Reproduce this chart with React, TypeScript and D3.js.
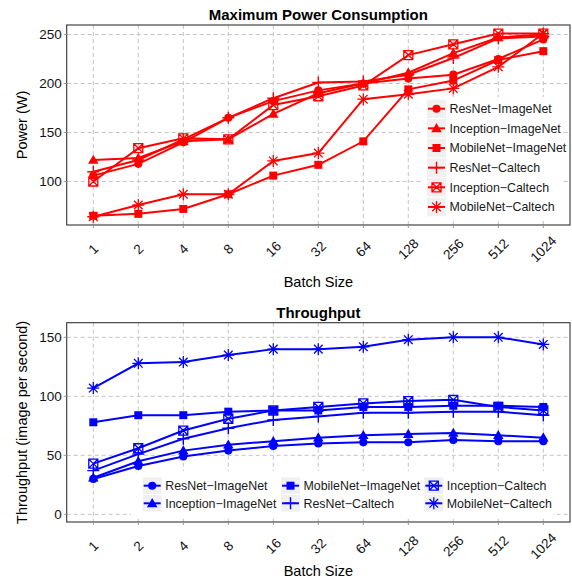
import React from "react";
import * as d3 from "d3";

// batch sizes on the x axis
const batchSizes = ["1", "2", "4", "8", "16", "32", "64", "128", "256", "512", "1024"];

const seriesNames = [
  "ResNet\u2212ImageNet",
  "Inception\u2212ImageNet",
  "MobileNet\u2212ImageNet",
  "ResNet\u2212Caltech",
  "Inception\u2212Caltech",
  "MobileNet\u2212Caltech",
];
const seriesShapes = ["circle", "triangle", "square", "plus", "boxx", "star"];

// Maximum power consumption (W)
const resnetImagenetPower = [106, 118, 140, 165, 182, 193, 200, 205, 209, 225, 245];
const inceptionImagenetPower = [122, 124, 141, 143, 169, 190, 200, 211, 231, 247, 250];
const mobilenetImagenetPower = [65, 67, 72, 87, 106, 117, 141, 194, 203, 224, 233];
const resnetCaltechPower = [110, 122, 143, 165, 185, 201, 202, 209, 226, 246, 248];
const inceptionCaltechPower = [100, 134, 144, 143, 178, 187, 198, 229, 240, 251, 251];
const mobilenetCaltechPower = [64, 76, 87, 87, 121, 129, 184, 189, 195, 217, 251];

// Throughput (images per second)
const resnetImagenetTp = [30, 41, 49, 54, 58, 60, 61, 61, 63, 62, 62];
const inceptionImagenetTp = [31, 45, 54, 59, 62, 65, 67, 68, 69, 67, 65];
const mobilenetImagenetTp = [78, 84, 84, 87, 88, 88, 91, 91, 92, 92, 91];
const resnetCaltechTp = [37, 51, 64, 73, 80, 83, 86, 86, 87, 87, 84];
const inceptionCaltechTp = [43, 56, 71, 81, 88, 91, 94, 96, 97, 91, 88];
const mobilenetCaltechTp = [107, 128, 129, 135, 140, 140, 142, 148, 150, 150, 144];

const powerTicks = [100, 150, 200, 250];
const tpTicks = [0, 50, 100, 150];

const FONT = "'Liberation Sans', Arial, Helvetica, sans-serif";

// marker drawing, stroke-based shapes use a path with fill none
function Marker({ shape, x, y, color }: { shape: string; x: number; y: number; color: string }) {
  const t = `translate(${x},${y})`;
  if (shape === "circle")
    return <path transform={t} d={d3.symbol(d3.symbolCircle, 52)()!} fill={color} />;
  if (shape === "triangle")
    return <path transform={`translate(${x},${y + 0.8})`} d={d3.symbol(d3.symbolTriangle, 48)()!} fill={color} />;
  if (shape === "square")
    return <path transform={t} d={d3.symbol(d3.symbolSquare, 64)()!} fill={color} />;
  if (shape === "plus")
    return <path transform={t} d="M-6,0H6M0,-6V6" stroke={color} strokeWidth={1.4} fill="none" />;
  if (shape === "boxx")
    return (
      <path
        transform={t}
        d="M-4.5,-4.5H4.5V4.5H-4.5Z M-4.5,-4.5L4.5,4.5 M4.5,-4.5L-4.5,4.5"
        stroke={color}
        strokeWidth={1.3}
        fill="none"
      />
    );
  // star (asterisk)
  return (
    <path
      transform={t}
      d="M-6,0H6M0,-6V6M-4.3,-4.3L4.3,4.3M4.3,-4.3L-4.3,4.3"
      stroke={color}
      strokeWidth={1.3}
      fill="none"
    />
  );
}

type PanelProps = {
  title: string;
  yLabel: string;
  series: number[][];
  color: string;
  top: number;
  bottom: number;
  yDomain: [number, number];
  yTicks: number[];
  xTitleOffset: number;
  legend: React.ReactNode;
};

const left = 66.7;
const right = 570;

function Panel({ title, yLabel, series, color, top, bottom, yDomain, yTicks, xTitleOffset, legend }: PanelProps) {
  const x = d3.scalePoint<string>().domain(batchSizes).range([93.3, 543.3]).padding(0);
  const y = d3.scaleLinear().domain(yDomain).range([bottom, top]);
  const line = d3
    .line<number>()
    .x((_, i) => x(batchSizes[i])!)
    .y((d) => y(d));
  const midY = (top + bottom) / 2;

  return (
    <g>
      <rect x={left} y={top} width={right - left} height={bottom - top} fill="#fff" />
      {/* grid */}
      {yTicks.map((t) => (
        <line key={"gy" + t} x1={left} x2={right} y1={y(t)} y2={y(t)} stroke="#c4c4c4" strokeDasharray="4,3" strokeWidth={1} />
      ))}
      {batchSizes.map((b) => (
        <line key={"gx" + b} x1={x(b)} x2={x(b)} y1={top} y2={bottom} stroke="#c4c4c4" strokeDasharray="4,3" strokeWidth={1} />
      ))}
      {/* series lines */}
      {series.map((s, i) => (
        <path key={"l" + i} d={line(s)!} fill="none" stroke={color} strokeWidth={2} />
      ))}
      {series.map((s, i) =>
        s.map((v, j) => <Marker key={`m${i}-${j}`} shape={seriesShapes[i]} x={x(batchSizes[j])!} y={y(v)} color={color} />)
      )}
      {legend}
      <rect x={left} y={top} width={right - left} height={bottom - top} fill="none" stroke="#333" strokeWidth={1.1} />
      {/* y axis */}
      {yTicks.map((t) => (
        <g key={"yt" + t}>
          <line x1={left - 3} x2={left} y1={y(t)} y2={y(t)} stroke="#999" />
          <text x={left - 5} y={y(t)} dy="0.35em" textAnchor="end" fontSize={13.5} fill="#111">
            {t}
          </text>
        </g>
      ))}
      {/* x axis */}
      {batchSizes.map((b) => (
        <g key={"xt" + b}>
          <line x1={x(b)} x2={x(b)} y1={bottom} y2={bottom + 3} stroke="#999" />
          <text
            transform={`translate(${x(b)},${bottom + 24}) rotate(-45)`}
            dy="0.35em"
            textAnchor="middle"
            fontSize={13.5}
            fill="#111"
          >
            {b}
          </text>
        </g>
      ))}
      <text x={(left + right) / 2} y={bottom + xTitleOffset} dy="0.35em" textAnchor="middle" fontSize={14.5} fill="#000">
        Batch Size
      </text>
      <text transform={`translate(22,${midY}) rotate(-90)`} dy="0.35em" textAnchor="middle" fontSize={14.5} fill="#000">
        {yLabel}
      </text>
      <text x={(left + right) / 2} y={top - 10} dy="0.35em" textAnchor="middle" fontSize={15} fontWeight="bold" fill="#000">
        {title}
      </text>
    </g>
  );
}

function LegendItem({ x, y, idx, color, h }: { x: number; y: number; idx: number; color: string; h: number }) {
  return (
    <g>
      <rect x={x} y={y - h / 2 + 0.5} width={19} height={h - 1} fill="#f0f0f0" />
      <line x1={x + 1} x2={x + 18} y1={y} y2={y} stroke={color} strokeWidth={2} />
      <Marker shape={seriesShapes[idx]} x={x + 9.5} y={y} color={color} />
      <text x={x + 22.5} y={y} dy="0.35em" fontSize={12.4} fill="#1a1a1a">
        {seriesNames[idx]}
      </text>
    </g>
  );
}

export default function App() {
  const red = "#ff0000";
  const blue = "#0000ff";

  const powerSeries = [
    resnetImagenetPower,
    inceptionImagenetPower,
    mobilenetImagenetPower,
    resnetCaltechPower,
    inceptionCaltechPower,
    mobilenetCaltechPower,
  ];
  const tpSeries = [
    resnetImagenetTp,
    inceptionImagenetTp,
    mobilenetImagenetTp,
    resnetCaltechTp,
    inceptionCaltechTp,
    mobilenetCaltechTp,
  ];

  const topLegend = (
    <g>
      <rect x={423} y={97} width={140} height={123} fill="#fff" />
      {seriesNames.map((_, i) => (
        <LegendItem key={i} x={427} y={108.7 + i * 19.65} idx={i} color={red} h={19.6} />
      ))}
    </g>
  );

  const colX = [142.7, 281, 424.3];
  const bottomLegend = (
    <g>
      <rect x={131} y={471} width={422} height={47} fill="#fff" />
      {seriesNames.map((_, i) => (
        <LegendItem
          key={i}
          x={colX[Math.floor(i / 2)]}
          y={485.7 + (i % 2) * 17.6}
          idx={i}
          color={blue}
          h={17.6}
        />
      ))}
    </g>
  );

  return (
    <svg
      width={572}
      height={582}
      style={{ position: "absolute", left: 0, top: 0, background: "#fff" }}
      fontFamily={FONT}
    >
      <rect width={572} height={582} fill="#fff" />
      <Panel
        title="Maximum Power Consumption"
        yLabel="Power (W)"
        series={powerSeries}
        color={red}
        top={25}
        bottom={225}
        yDomain={[55.6, 259.7]}
        yTicks={powerTicks}
        xTitleOffset={57}
        legend={topLegend}
      />
      <Panel
        title="Throughput"
        yLabel="Throughput (image per second)"
        series={tpSeries}
        color={blue}
        top={322.7}
        bottom={522}
        yDomain={[-6.5, 162.4]}
        yTicks={tpTicks}
        xTitleOffset={49}
        legend={bottomLegend}
      />
    </svg>
  );
}
